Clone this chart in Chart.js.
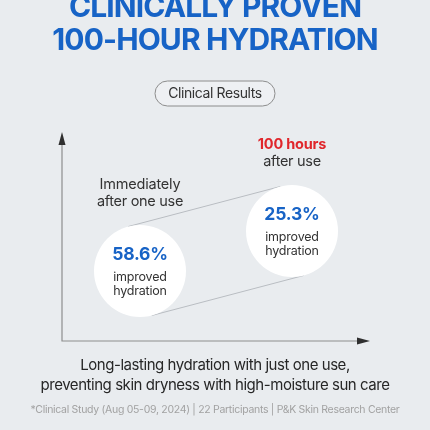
<!DOCTYPE html>
<html><head><meta charset="utf-8">
<script src="https://cdn.jsdelivr.net/npm/chart.js@4"></script>
<style>
html,body{margin:0;padding:0;background:#e9ecef;}
#wrap{width:430px;height:430px;position:relative;}
</style></head>
<body><div id="wrap"><canvas id="c"></canvas></div>
<script>
const titleLines = ['CLINICALLY PROVEN', '100-HOUR HYDRATION'];
const badgeLabel = 'Clinical Results';
const categories = [['Immediately', 'after one use'], ['100 hours', 'after use']];
const hoursAfterUse = [0, 100];
const stageLevel = [1, 2];
const improvement = [58.6, 25.3];
const improvementCaption = ['improved', 'hydration'];
const summaryLines = ['Long-lasting hydration with just one use,', 'preventing skin dryness with high-moisture sun care'];
const footnote = '*Clinical Study (Aug 05-09, 2024) | 22 Participants | P&K Skin Research Center';

const FONT = 'Inter, "Noto Sans", sans-serif';
const BLUE = '#1763c6';
const RED = '#e0262b';
const DARK = '#333333';

function txt(ctx, s, x, y, font, color, ls) {
  ctx.font = font;
  ctx.fillStyle = color;
  ctx.letterSpacing = (ls || 0) + 'px';
  ctx.fillText(s, x, y);
  ctx.letterSpacing = '0px';
}

const infographic = {
  id: 'infographic',
  beforeDatasetsDraw(chart) {
    const ctx = chart.ctx, ca = chart.chartArea;
    ctx.save();
    const top = ca.top - 3, right = ca.right;
    ctx.strokeStyle = '#8e8e8e';
    ctx.lineWidth = 1.2;
    ctx.beginPath();
    ctx.moveTo(ca.left, top + 10);
    ctx.lineTo(ca.left, ca.bottom);
    ctx.lineTo(right - 10, ca.bottom);
    ctx.stroke();
    ctx.fillStyle = '#2f2f2f';
    ctx.beginPath();
    ctx.moveTo(ca.left, top);
    ctx.lineTo(ca.left - 3.5, top + 13);
    ctx.lineTo(ca.left + 3.5, top + 13);
    ctx.closePath(); ctx.fill();
    ctx.beginPath();
    ctx.moveTo(right, ca.bottom);
    ctx.lineTo(right - 13, ca.bottom - 3.5);
    ctx.lineTo(right - 13, ca.bottom + 3.5);
    ctx.closePath(); ctx.fill();
    const pts = chart.getDatasetMeta(0).data;
    const r = chart.data.datasets[0].pointRadius;
    const a = pts[0], b = pts[1];
    const dx = b.x - a.x, dy = b.y - a.y, L = Math.hypot(dx, dy);
    const nx = -dy / L, ny = dx / L;
    ctx.strokeStyle = '#b9bdc2';
    ctx.lineWidth = 1;
    [-1, 1].forEach(s => {
      ctx.beginPath();
      ctx.moveTo(a.x + s * r * nx, a.y + s * r * ny);
      ctx.lineTo(b.x + s * r * nx, b.y + s * r * ny);
      ctx.stroke();
    });
    ctx.restore();
  },
  afterDatasetsDraw(chart) {
    const ctx = chart.ctx;
    const pts = chart.getDatasetMeta(0).data;
    const r = chart.data.datasets[0].pointRadius;
    ctx.save();
    ctx.textAlign = 'center';
    ctx.textBaseline = 'middle';
    pts.forEach((p, i) => {
      const lab = categories[i];
      if (i === 1) txt(ctx, lab[0], p.x, p.y - r - 40, '700 14.5px ' + FONT, RED, -0.2);
      else txt(ctx, lab[0], p.x, p.y - r - 40, '400 14.5px ' + FONT, DARK, -0.2);
      txt(ctx, lab[1], p.x, p.y - r - 23, '400 14.5px ' + FONT, DARK, -0.3);
      txt(ctx, improvement[i].toFixed(1) + '%', p.x, p.y - 16, '700 17.5px ' + FONT, BLUE, -0.2);
      txt(ctx, improvementCaption[0], p.x, p.y + 6, '400 12.5px ' + FONT, DARK, -0.2);
      txt(ctx, improvementCaption[1], p.x, p.y + 20, '400 12.5px ' + FONT, DARK, -0.2);
    });
    ctx.restore();
  },
  afterDraw(chart) {
    const ctx = chart.ctx, W = chart.width;
    ctx.save();
    ctx.textAlign = 'center';
    ctx.textBaseline = 'alphabetic';
    txt(ctx, titleLines[0], W / 2, 17, '700 30px ' + FONT, BLUE, -0.9);
    txt(ctx, titleLines[1], W / 2, 50, '700 30px ' + FONT, BLUE, -0.9);
    const bx = 155, by = 81, bw = 120, bh = 25;
    ctx.beginPath();
    ctx.roundRect(bx, by, bw, bh, bh / 2);
    ctx.fillStyle = '#eef0f3';
    ctx.fill();
    ctx.strokeStyle = '#8c8c8c';
    ctx.lineWidth = 1;
    ctx.stroke();
    ctx.textBaseline = 'middle';
    txt(ctx, badgeLabel, W / 2, by + bh / 2 + 0.5, '400 14px ' + FONT, DARK, -0.4);
    txt(ctx, summaryLines[0], W / 2, 365, '400 15px ' + FONT, '#262626', -0.45);
    txt(ctx, summaryLines[1], W / 2, 385, '400 15px ' + FONT, '#262626', -0.45);
    txt(ctx, footnote, W / 2, 410, '400 10.5px ' + FONT, '#a2a2a2', -0.3);
    ctx.restore();
  }
};

new Chart(document.getElementById('c'), {
  type: 'scatter',
  data: {
    datasets: [{
      data: hoursAfterUse.map((h, i) => ({ x: h, y: stageLevel[i] })),
      pointRadius: 46,
      pointHoverRadius: 46,
      backgroundColor: '#ffffff',
      borderWidth: 0
    }]
  },
  options: {
    responsive: true,
    maintainAspectRatio: false,
    animation: false,
    events: [],
    layout: { padding: { left: 62, right: 60, top: 135, bottom: 89 } },
    scales: {
      x: { type: 'linear', display: false, min: -51.3, max: 151.3 },
      y: { type: 'linear', display: false, min: -0.75, max: 4.4 }
    },
    plugins: { legend: { display: false }, tooltip: { enabled: false } }
  },
  plugins: [infographic]
});
</script>
</body></html>
